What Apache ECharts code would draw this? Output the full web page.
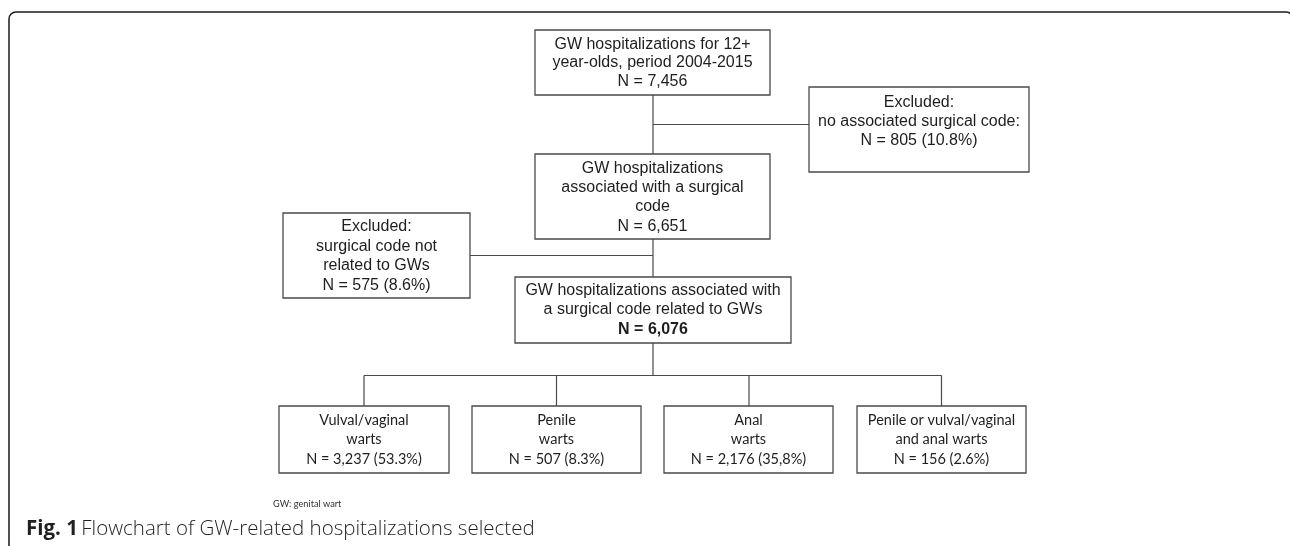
<!DOCTYPE html>
<html><head><meta charset="utf-8">
<script src="https://cdn.jsdelivr.net/npm/echarts@6/dist/echarts.min.js"></script>
<style>html,body{margin:0;padding:0;background:#fff}#c{width:1290px;height:546px}</style>
</head><body><div id="c"></div>
<script>
// ---- data ----
const stageLabels = [
  ['GW hospitalizations for 12+', 'year-olds, period 2004-2015'],
  ['Excluded:', 'no associated surgical code:'],
  ['GW hospitalizations', 'associated with a surgical', 'code'],
  ['Excluded:', 'surgical code not', 'related to GWs'],
  ['GW hospitalizations associated with', 'a surgical code related to GWs'],
  ['Vulval/vaginal', 'warts'],
  ['Penile', 'warts'],
  ['Anal', 'warts'],
  ['Penile or vulval/vaginal', 'and anal warts']
];
const stageCounts = ['7,456', '805', '6,651', '575', '6,076', '3,237', '507', '2,176', '156'];
const stagePercents = ['', '10.8%', '', '8.6%', '', '53.3%', '8.3%', '35,8%', '2.6%'];
const footnoteText = 'GW: genital wart';
const captionLabel = 'Fig. 1';
const captionText = 'Flowchart of GW-related hospitalizations selected';

// ---- layout (positions / styles) ----
// [x0, y0, x1, y1, textCenterY, lineHeight, fontKind, boldCount]
const boxLayout = [
  [535, 30, 770, 95, 63, 18.7, 'A', false],
  [809, 87, 1029, 172, 121.3, 19.2, 'A', false],
  [535, 154, 770, 239, 197.3, 19.4, 'A', false],
  [283, 213, 470, 298, 256, 19.4, 'A', false],
  [515, 277, 791, 343, 310, 19.3, 'A', true],
  [279, 406, 449, 473, 439.6, 19.5, 'C', false],
  [472, 406, 641, 473, 439.6, 19.5, 'C', false],
  [664, 406, 833, 473, 439.6, 19.5, 'C', false],
  [857, 406, 1026, 473, 439.6, 19.5, 'C', false]
];
const connectorLayout = [
  [[653, 95], [653, 154]],
  [[653, 124.5], [809, 124.5]],
  [[653, 239], [653, 277]],
  [[470, 255.5], [653, 255.5]],
  [[653, 343], [653, 375.5]],
  [[364, 375.5], [941.5, 375.5]],
  [[364, 375.5], [364, 406]],
  [[556.5, 375.5], [556.5, 406]],
  [[749, 375.5], [749, 406]],
  [[941.5, 375.5], [941.5, 406]]
];
const fonts = {
  A: { fontFamily: '"Liberation Sans", Arial, sans-serif', fontSize: 16 },
  C: { fontFamily: 'Lato, "Open Sans", sans-serif', fontSize: 14.5 }
};

function boxLines(i) {
  const lines = stageLabels[i].slice();
  let n = 'N = ' + stageCounts[i];
  if (stagePercents[i]) n += ' (' + stagePercents[i] + ')';
  lines.push(n);
  return lines;
}

const chart = echarts.init(document.getElementById('c'), null, { renderer: 'canvas' });

chart.setOption({
  animation: false,
  backgroundColor: '#ffffff',
  grid: { left: 0, right: 0, top: 0, bottom: 0, containLabel: false },
  xAxis: { type: 'value', min: 0, max: 1290, show: false },
  yAxis: { type: 'value', min: 0, max: 546, inverse: true, show: false },
  graphic: [
    {
      type: 'rect', silent: true, z: 0,
      shape: { x: 9, y: 12, width: 1284, height: 600, r: 7 },
      style: { fill: 'none', stroke: '#1a1a1a', lineWidth: 1.5 }
    },
    {
      type: 'text', silent: true, left: 273, top: 499.5,
      style: { text: footnoteText, fontFamily: 'Lato, sans-serif', fontSize: 9.2, fill: '#333' }
    },
    {
      type: 'text', silent: true, left: 26, top: 519,
      style: {
        text: '{b|' + captionLabel + '} {n|' + captionText + '}',
        rich: {
          b: { fontFamily: '"Open Sans", sans-serif', fontSize: 20.5, lineHeight: 25, fontWeight: 'bold', fill: '#231f20' },
          n: { fontFamily: '"Open Sans", sans-serif', fontSize: 20.5, lineHeight: 25, fontWeight: 300, fill: '#231f20' }
        }
      }
    }
  ],
  series: [
    {
      type: 'custom',
      coordinateSystem: 'cartesian2d',
      silent: true,
      clip: false,
      z: 2,
      data: connectorLayout.map((c, i) => [i]),
      renderItem: function (params, api) {
        const seg = connectorLayout[api.value(0)];
        const p0 = api.coord(seg[0]);
        const p1 = api.coord(seg[1]);
        return {
          type: 'line',
          shape: { x1: p0[0], y1: p0[1], x2: p1[0], y2: p1[1] },
          style: { stroke: '#4a4a4a', lineWidth: 1.2 }
        };
      }
    },
    {
      type: 'custom',
      coordinateSystem: 'cartesian2d',
      silent: true,
      clip: false,
      z: 3,
      data: stageCounts.map((c, i) => [i]),
      renderItem: function (params, api) {
        const i = api.value(0);
        const L = boxLayout[i];
        const tl = api.coord([L[0], L[1]]);
        const br = api.coord([L[2], L[3]]);
        const cx = (tl[0] + br[0]) / 2;
        const cy = api.coord([0, L[4]])[1];
        const lh = L[5];
        const f = fonts[L[6]];
        const lines = boxLines(i);
        const children = [{
          type: 'rect',
          shape: { x: tl[0], y: tl[1], width: br[0] - tl[0], height: br[1] - tl[1] },
          style: { fill: '#ffffff', stroke: '#4a4a4a', lineWidth: 1.3 }
        }];
        lines.forEach(function (t, k) {
          const y = cy + (k - (lines.length - 1) / 2) * lh;
          const bold = L[7] && k === lines.length - 1;
          children.push({
            type: 'text',
            style: {
              text: t, x: cx, y: y, align: 'center', verticalAlign: 'middle',
              fontFamily: f.fontFamily, fontSize: f.fontSize,
              fontWeight: bold ? 'bold' : 'normal', fill: '#1e1e1e'
            }
          });
        });
        return { type: 'group', children: children };
      }
    }
  ]
});
</script>
</body></html>
